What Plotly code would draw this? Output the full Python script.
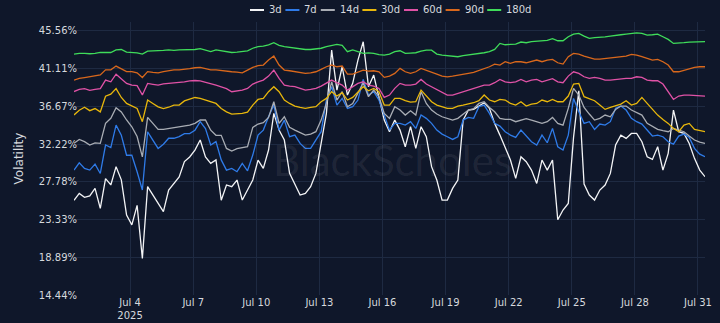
import pandas as pd
import plotly.graph_objects as go

# 6-hourly timestamps, Jul 1 2025 08:00 -> Jul 31 2025 08:00
times = pd.date_range("2025-07-01 08:00", "2025-07-31 08:00", freq="6h")

vol_3d = [
    25.6, 26.4, 25.95, 26.1, 27.0, 24.65, 28.15, 27.4, 29.55, 28.0,
    23.85, 22.7, 25.0, 18.75, 27.2, 26.2, 25.25, 24.25, 26.8, 27.6,
    28.35, 30.15, 30.7, 31.5, 32.7, 30.7, 29.95, 30.35, 25.6, 27.4,
    27.19, 27.98, 25.62, 26.80, 27.98, 30.33, 29.35, 31.51, 35.83, 33.86,
    32.69, 28.76, 27.39, 26.21, 26.41, 27.19, 28.76, 32.29, 35.83, 43.28,
    38.57, 41.32, 37.99, 39.36, 42.11, 44.26, 38.97, 40.34, 37.59, 35.04,
    33.67,
    35.04, 33.86, 31.90, 34.26, 31.71, 34.26, 33.08, 29.55, 27.98, 25.62,
    25.62, 26.99, 27.98, 35.04, 36.22, 36.30, 36.69, 37.08, 36.42, 34.65,
    33.27, 31.90, 30.33, 28.17, 30.72, 30.13, 29.15, 27.58, 30.33, 29.15,
    30.33, 23.3, 24.45, 25.23, 33.0, 38.5, 27.5, 26.21, 25.62, 26.80,
    27.39, 28.76, 32.10, 33.27, 32.88, 33.47, 33.47, 32.49, 30.72, 30.41,
    31.90, 29.15, 31.12, 36.22, 33.67, 33.47, 32.29, 30.53, 29.15, 28.37,
]
vol_7d = [
    29.15, 30.0, 29.35, 29.15, 29.85, 28.75, 32.1, 31.8, 34.45, 33.25,
    30.9, 30.9, 28.95, 26.8, 33.65, 32.7, 31.7, 32.2, 32.9, 32.9,
    33.1, 33.45, 33.45, 33.85, 34.85, 34.05, 32.1, 32.5, 30.35, 29.15,
    29.35, 28.96, 29.94, 29.07, 30.92, 33.27, 33.86, 35.43, 36.81, 33.86,
    35.04, 33.08, 33.27, 32.29, 31.71, 31.71, 32.69, 33.67, 37.40, 38.97,
    36.81, 37.59, 36.41, 36.61, 37.40, 39.83, 37.99, 38.38, 37.40, 35.63,
    33.86,
    34.65, 34.65, 34.45, 34.85, 34.06, 35.63, 35.24, 34.65, 33.86, 33.39,
    33.08, 32.76, 33.08, 35.04, 35.35, 35.24, 36.61, 36.81, 35.83, 34.65,
    34.33, 33.67, 33.27, 33.00, 33.86, 33.16, 32.49, 32.10, 33.27, 32.37,
    34.06, 31.90, 31.51, 33.27, 37.59, 36.02, 34.65, 34.85, 33.94, 34.57,
    34.45, 34.85, 36.42, 36.69, 36.22, 35.24, 34.85, 34.57, 33.86, 33.16,
    33.27, 33.08, 32.49, 32.21, 33.16, 33.39, 33.00, 31.71, 31.03, 30.72,
]
vol_14d = [
    32.3, 32.75, 32.5, 32.1, 32.35, 32.3, 34.65, 35.25, 36.5, 36.0,
    35.05, 34.25, 33.1, 30.7, 35.35, 34.65, 33.95, 33.95, 34.05, 34.2,
    34.25, 34.35, 34.45, 34.65, 35.05, 35.05, 33.85, 33.25, 33.25, 31.7,
    31.39, 31.67, 31.82, 31.90, 34.18, 34.57, 34.73, 35.35, 37.20, 34.65,
    35.43, 34.18, 33.86, 33.55, 33.27, 33.39, 33.67, 35.04, 37.00, 39.55,
    37.40, 38.38, 36.61, 37.00, 38.18, 39.44, 37.79, 38.57, 37.79, 35.83,
    35.24,
    36.61, 36.22, 35.63, 36.14, 35.63, 38.38, 37.00, 36.22, 35.75, 35.43,
    35.24, 35.04, 35.24, 35.75, 36.22, 36.38, 37.00, 37.20, 36.53, 36.02,
    35.24, 35.12, 35.12, 34.85, 35.04, 35.20, 35.04, 34.85, 34.65, 34.85,
    35.35, 34.65, 34.45, 36.42, 38.77, 37.99, 36.53, 35.75, 35.04, 35.24,
    35.63, 35.43, 36.30, 36.69, 36.69, 36.22, 35.90, 35.63, 34.65, 34.33,
    33.94, 33.79, 33.67, 34.06, 33.86, 33.67, 33.16, 32.69, 32.45, 32.29,
]
vol_30d = [
    35.65, 36.2, 36.55, 36.15, 36.4, 36.0, 37.85, 38.1, 38.75, 37.7,
    37.0, 36.7, 36.4, 34.85, 37.4, 37.0, 36.6, 36.4, 36.55, 36.8,
    36.8, 37.3, 37.5, 37.7, 37.6, 37.4, 37.2, 37.0, 36.4, 36.0,
    35.75, 35.79, 35.83, 35.98, 36.81, 37.47, 37.59, 38.38, 38.97, 38.38,
    37.40, 37.00, 36.69, 36.53, 36.41, 36.53, 36.61, 37.20, 37.59, 38.38,
    37.87, 38.26, 37.40, 37.71, 38.38, 38.97, 38.49, 38.77, 38.38, 36.81,
    36.81,
    37.59, 37.59, 37.32, 37.16, 37.20, 38.57, 37.87, 37.20, 36.81, 36.61,
    36.42, 36.42, 36.69, 36.81, 36.92, 37.08, 37.32, 37.99, 37.40, 37.20,
    37.47, 37.40, 37.00, 36.81, 37.20, 36.69, 36.92, 37.00, 37.40, 37.20,
    37.47, 37.20, 37.20, 37.87, 39.28, 39.36, 37.79, 37.59, 37.32, 36.81,
    36.30, 36.53, 36.77, 36.92, 37.32, 36.81, 37.00, 37.71, 37.00, 36.30,
    35.63, 35.12, 34.65, 34.06, 33.67, 34.45, 34.65, 33.94, 33.79, 33.67,
]
vol_60d = [
    38.4, 38.65, 38.75, 38.55, 38.65, 38.75, 39.75, 39.55, 40.45, 39.95,
    39.35, 39.15, 39.1, 38.0, 39.35, 39.25, 39.15, 39.3, 39.35, 39.45,
    39.5, 39.55, 39.65, 39.7, 39.65, 39.5, 39.3, 39.15, 38.95, 38.75,
    38.38, 38.49, 38.57, 38.77, 39.28, 39.55, 39.75, 40.22, 40.93, 39.95,
    39.16, 39.04, 38.97, 38.77, 38.57, 38.65, 38.77, 39.04, 39.36, 39.75,
    39.44, 39.16, 38.57, 38.97, 39.36, 39.55, 39.16, 39.04, 38.77, 37.71,
    37.99,
    38.77, 39.36, 39.16, 39.16, 39.28, 39.83, 39.28, 38.97, 38.65, 38.38,
    37.99, 37.99, 38.18, 38.38, 38.57, 38.77, 38.97, 39.16, 39.16, 39.44,
    39.83, 39.55, 39.44, 39.55, 39.83, 39.55, 39.75, 39.83, 39.55, 39.75,
    39.91, 39.55, 39.44, 40.22, 40.73, 40.54, 40.14, 39.95, 40.07, 39.95,
    39.75, 39.75, 39.83, 39.91, 39.95, 39.95, 40.14, 40.07, 39.75, 39.67,
    39.67, 39.28, 38.38, 37.47, 37.87, 37.99, 37.99, 37.95, 37.87, 37.87,
]
vol_90d = [
    39.75, 39.95, 40.05, 40.15, 40.2, 40.35, 40.95, 40.95, 41.4, 41.1,
    40.75, 40.75, 40.6, 40.05, 40.75, 40.65, 40.6, 40.75, 40.85, 40.95,
    40.95, 41.0, 41.1, 41.2, 41.25, 41.1, 40.95, 40.95, 40.85, 40.75,
    40.73, 40.69, 40.61, 40.93, 41.24, 41.44, 41.52, 42.11, 42.58, 41.52,
    40.93, 40.85, 40.73, 40.65, 40.54, 40.61, 40.73, 41.01, 41.32, 41.52,
    41.32, 41.40, 40.46, 40.46, 40.73, 40.93, 40.81, 40.85, 40.73, 40.07,
    40.22,
    40.54, 41.13, 40.73, 40.54, 40.73, 41.13, 40.93, 40.73, 40.46, 40.22,
    40.14, 40.22, 40.30, 40.46, 40.54, 40.65, 40.85, 41.09, 41.32, 41.63,
    41.52, 41.91, 41.71, 41.91, 41.91, 41.79, 41.91, 42.11, 41.91, 42.11,
    42.18, 41.79, 41.63, 42.50, 42.89, 42.81, 42.58, 42.38, 42.22, 42.22,
    42.30, 42.38, 42.42, 42.50, 42.58, 42.77, 42.69, 42.50, 42.30, 42.11,
    42.18, 41.91, 41.52, 40.73, 40.73, 40.93, 41.13, 41.24, 41.32, 41.32,
]
vol_180d = [
    42.8, 42.9, 42.9, 42.85, 42.9, 43.0, 43.0, 43.0, 43.3, 43.35,
    43.05, 43.0, 42.95, 42.8, 43.15, 43.2, 43.2, 43.25, 43.3, 43.25,
    43.3, 43.3, 43.3, 43.35, 43.45, 43.3, 43.1, 43.3, 43.2, 43.1,
    43.0, 43.05, 43.1, 43.2, 43.5, 43.7, 43.75, 43.9, 44.15, 43.85,
    43.7, 43.6, 43.5, 43.45, 43.35, 43.35, 43.4, 43.5, 43.7, 43.85,
    43.95, 43.85, 43.1, 43.3, 43.1, 42.9, 42.95, 42.9, 42.75, 42.7,
    42.8,
    43.09, 43.20, 42.89, 42.93, 42.97, 43.17, 43.28, 43.28, 42.81, 42.69,
    42.62, 42.50, 42.50, 42.62, 42.69, 42.77, 42.89, 42.97, 43.09, 43.36,
    44.07, 43.91, 43.95, 43.99, 44.23, 44.15, 44.27, 44.34, 44.38, 44.42,
    44.62, 44.38, 44.38, 44.85, 45.17, 45.25, 44.93, 44.66, 44.74, 44.77,
    44.85, 44.93, 45.05, 45.09, 45.17, 45.25, 45.32, 45.25, 45.05, 45.09,
    45.17, 44.85, 44.54, 44.07, 44.07, 44.15, 44.23, 44.27, 44.27, 44.27,
]

series_names = ["3d", "7d", "14d", "30d", "60d", "90d", "180d"]
series_values = [vol_3d, vol_7d, vol_14d, vol_30d, vol_60d, vol_90d, vol_180d]
series_colors = ["#f3f4f6", "#2f7be8", "#a9adb4", "#e8b70c", "#e052a6", "#d9681c", "#3fdc5a"]

y_tickvals = [14.44, 18.89, 23.33, 27.78, 32.22, 36.67, 41.11, 45.56]
y_ticktext = ["14.44%", "18.89%", "23.33%", "27.78%", "32.22%", "36.67%", "41.11%", "45.56%"]
x_tickvals = ["2025-07-04", "2025-07-07", "2025-07-10", "2025-07-13", "2025-07-16",
              "2025-07-19", "2025-07-22", "2025-07-25", "2025-07-28", "2025-07-31"]
x_ticktext = ["Jul 4<br>2025", "Jul 7", "Jul 10", "Jul 13", "Jul 16",
              "Jul 19", "Jul 22", "Jul 25", "Jul 28", "Jul 31"]

BG = "#0f172a"
GRID = "#1e2a42"
TXT = "#d6d9de"
FONT = "DejaVu Sans"

W, H = 720, 323
ML, MR, MT, MB = 74, 15, 22, 28
PW, PH = W - ML - MR, H - MT - MB

fig = go.Figure()
for name, vals, col in zip(series_names, series_values, series_colors):
    fig.add_trace(go.Scatter(x=times[:len(vals)], y=vals, mode="lines", name=name,
                             line=dict(color=col, width=1.3), showlegend=False))

# compact legend drawn above the plot (line sample + label)
def px_x(p):
    return (p - ML) / PW

def px_y(p):
    return (H - MB - p) / PH

leg_y = 10
cur = 250.0
line_len, text_gap, item_gap, char_w = 14, 3, 6, 6.2
for name, col in zip(series_names, series_colors):
    fig.add_shape(type="line", xref="paper", yref="paper",
                  x0=px_x(cur), x1=px_x(cur + line_len), y0=px_y(leg_y), y1=px_y(leg_y),
                  line=dict(color=col, width=2))
    tx = cur + line_len + text_gap
    fig.add_annotation(text=name, xref="paper", yref="paper", x=px_x(tx), y=px_y(leg_y),
                       xanchor="left", yanchor="middle", showarrow=False,
                       font=dict(family=FONT, size=10, color=TXT))
    cur = tx + char_w * len(name) + item_gap

fig.add_annotation(text="BlackScholes", xref="paper", yref="paper", x=px_x(393), y=px_y(160),
                   xanchor="center", yanchor="middle",
                   showarrow=False, font=dict(family="Lato", size=42, color="rgba(255,255,255,0.07)"))

fig.update_layout(
    width=W, height=H,
    paper_bgcolor=BG, plot_bgcolor=BG,
    margin=dict(l=ML, r=MR, t=MT, b=MB, autoexpand=False),
    font=dict(family=FONT, size=10, color=TXT),
    showlegend=False,
    xaxis=dict(type="date", range=[times[0], times[-1]], tickvals=x_tickvals, ticktext=x_ticktext,
               showgrid=True, gridcolor=GRID, gridwidth=1, zeroline=False, showline=False,
               automargin=False, tickfont=dict(family=FONT, size=10, color=TXT)),
    yaxis=dict(range=[14.44, 46.59], tickvals=y_tickvals, ticktext=y_ticktext,
               showgrid=True, gridcolor=GRID, gridwidth=1, zeroline=False, showline=False,
               automargin=False, ticklabelstandoff=-4,
               title=dict(text="Volatility", font=dict(family=FONT, size=12, color=TXT), standoff=12),
               tickfont=dict(family=FONT, size=10, color=TXT)),
)

fig.write_html("out.html")
